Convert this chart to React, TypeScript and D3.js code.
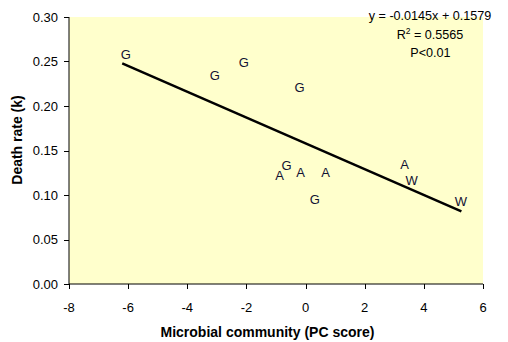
import React from "react";
import * as d3 from "d3";

const labels = ["G", "G", "G", "G", "A", "G", "A", "A", "G", "A", "W", "W"];
const pcScore = [-6.08, -3.07, -2.09, -0.2, -0.88, -0.64, -0.17, 0.68, 0.31, 3.35, 3.59, 5.25];
const deathRate = [0.258, 0.234, 0.249, 0.221, 0.122, 0.133, 0.126, 0.126, 0.0955, 0.134, 0.116, 0.093];
const trendRange = [-6.2, 5.27];
const slope = -0.0145;
const intercept = 0.1579;
const xTicks = [-8, -6, -4, -2, 0, 2, 4, 6];
const yTicks = [0, 0.05, 0.1, 0.15, 0.2, 0.25, 0.3];
const eqLines = ["y = -0.0145x + 0.1579", "R² = 0.5565", "P<0.01"];

const W = 508, H = 342;
const M = { left: 69, right: 483, top: 17, bottom: 284 };
const FONT = "Arial, 'Liberation Sans', sans-serif";

export default function App() {
  const x = d3.scaleLinear().domain([-8, 6]).range([M.left, M.right]);
  const y = d3.scaleLinear().domain([0, 0.3]).range([M.bottom, M.top]);
  const line = d3.line<number>().x((d) => x(d)).y((d) => y(slope * d + intercept));
  return (
    <svg width={W} height={H} style={{ position: "absolute", left: 0, top: 0, background: "#fff" }}>
      <rect x={M.left} y={M.top} width={M.right - M.left} height={M.bottom - M.top} fill="#FFFFCC" />
      <path d={line(trendRange) || ""} stroke="#000" strokeWidth={2.5} fill="none" />
      {labels.map((l, i) => (
        <text key={i} x={x(pcScore[i])} y={y(deathRate[i]) + 4.7} textAnchor="middle"
          fontFamily={FONT} fontSize={13} fill="#111133">{l}</text>
      ))}
      <line x1={M.left} x2={M.left} y1={M.top} y2={M.bottom} stroke="#000" />
      <line x1={M.left} x2={M.right} y1={M.bottom} y2={M.bottom} stroke="#000" />
      {yTicks.map((t) => (
        <g key={t}>
          <line x1={M.left - 5} x2={M.left} y1={Math.round(y(t)) + 0.5} y2={Math.round(y(t)) + 0.5} stroke="#000" />
          <text x={58} y={y(t) + 4.6} textAnchor="end" fontFamily={FONT} fontSize={13}>{t.toFixed(2)}</text>
        </g>
      ))}
      {xTicks.map((t) => (
        <g key={t}>
          <line x1={Math.round(x(t)) + 0.5} x2={Math.round(x(t)) + 0.5} y1={M.bottom} y2={M.bottom + 5} stroke="#000" />
          <text x={x(t)} y={311.5} textAnchor="middle" fontFamily={FONT} fontSize={13}>{t}</text>
        </g>
      ))}
      <text x={267.5} y={336.5} textAnchor="middle" fontFamily={FONT} fontSize={14} fontWeight="bold">
        Microbial community (PC score)
      </text>
      <text transform="translate(21.7,140) rotate(-90)" textAnchor="middle" fontFamily={FONT} fontSize={14} fontWeight="bold">
        Death rate (k)
      </text>
      <text x={430} y={20} textAnchor="middle" fontFamily={FONT} fontSize={12.6}>{eqLines[0]}</text>
      <text x={430} y={38.5} textAnchor="middle" fontFamily={FONT} fontSize={12.6}>
        R<tspan dy={-5} fontSize={8.5}>2</tspan><tspan dy={5}>{" = 0.5565"}</tspan>
      </text>
      <text x={430.5} y={57} textAnchor="middle" fontFamily={FONT} fontSize={12.6}>{eqLines[2]}</text>
    </svg>
  );
}
